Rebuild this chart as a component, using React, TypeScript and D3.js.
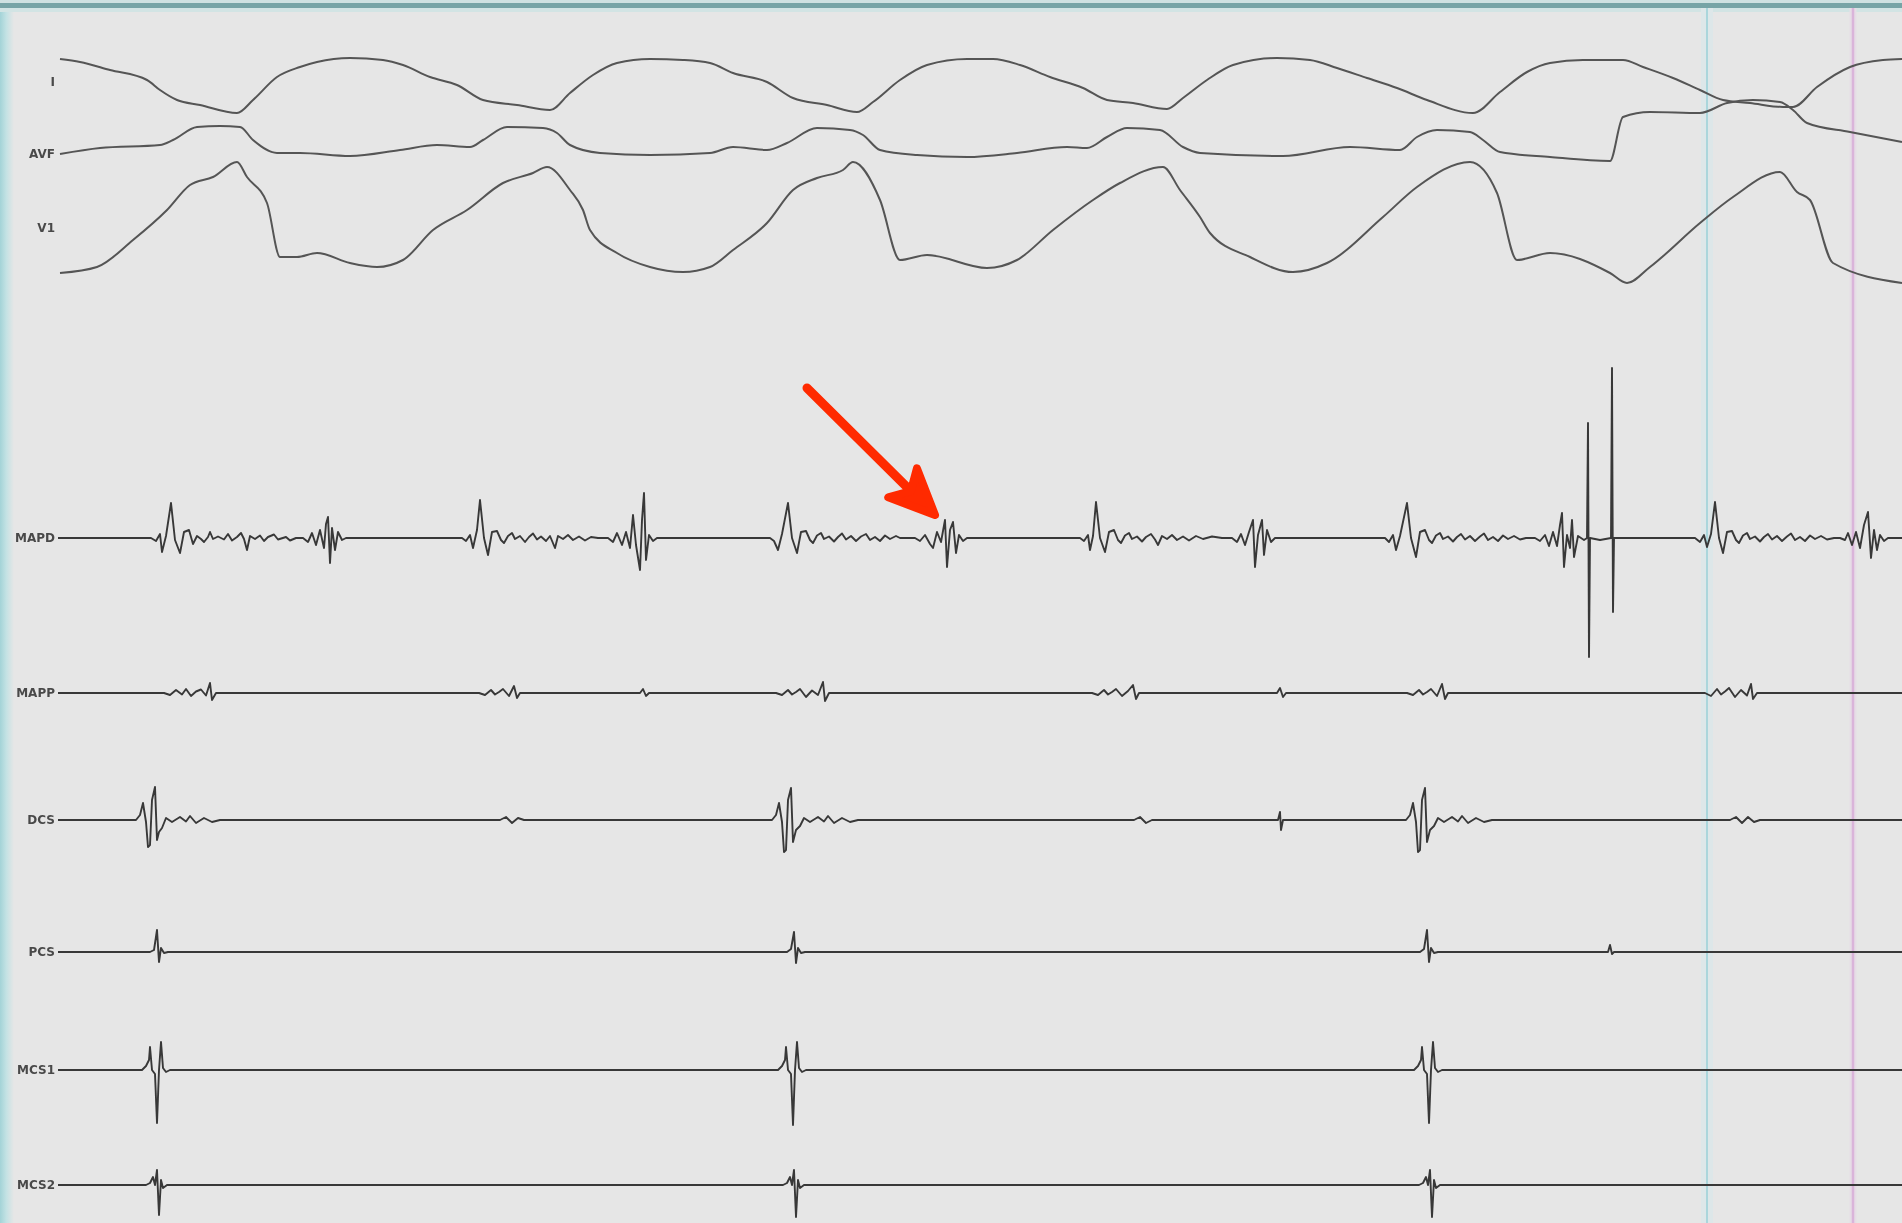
import React, { useRef, useEffect } from 'react'
import * as d3 from 'd3'

const WIDTH = 1902
const HEIGHT = 1223
const DURATION_MS = 3688

const CHANNELS = ['I', 'AVF', 'V1', 'MAPD', 'MAPP', 'DCS', 'PCS', 'MCS1', 'MCS2']

// surface leads: [time ms, mV]
const LEAD_I = [[4,0.46],[44,0.40],[104,0.24],[178,0.04],[204,-0.16],[238,-0.36],[284,-0.46],[358,-0.62],[390,-0.36],[438,0.10],[484,0.30],[518,0.40],[584,0.48],[650,0.44],[690,0.34],[744,0.10],[798,-0.06],[850,-0.36],[918,-0.46],[984,-0.56],[1024,-0.22],[1070,0.14],[1118,0.38],[1184,0.46],[1250,0.44],[1304,0.38],[1350,0.18],[1418,0.00],[1470,-0.32],[1538,-0.46],[1598,-0.60],[1630,-0.40],[1684,0.04],[1738,0.34],[1818,0.46],[1870,0.46],[1924,0.34],[1984,0.10],[2050,-0.12],[2098,-0.36],[2150,-0.42],[2218,-0.54],[2250,-0.32],[2298,0.04],[2350,0.34],[2438,0.48],[2504,0.44],[2558,0.28],[2618,0.08],[2678,-0.12],[2738,-0.36],[2830,-0.62],[2884,-0.20],[2938,0.20],[2984,0.38],[3050,0.44],[3130,0.44],[3170,0.30],[3230,0.08],[3284,-0.16],[3330,-0.36],[3384,-0.42],[3450,-0.50],[3470,-0.50],[3518,-0.10],[3584,0.30],[3650,0.44],[3688,0.46]]

const LEAD_AVF = [[4,0],[84,0.12],[204,0.18],[230,0.28],[278,0.54],[324,0.56],[364,0.54],[390,0.28],[438,0.02],[484,0.02],[584,-0.04],[684,0.08],[758,0.18],[824,0.14],[850,0.28],[898,0.54],[970,0.52],[998,0.42],[1024,0.18],[1084,0.02],[1184,-0.02],[1304,0.02],[1350,0.14],[1418,0.08],[1458,0.22],[1518,0.52],[1584,0.48],[1610,0.38],[1644,0.08],[1718,-0.02],[1818,-0.06],[1918,0.02],[2018,0.14],[2058,0.12],[2098,0.34],[2138,0.52],[2204,0.48],[2250,0.14],[2284,0.02],[2450,-0.04],[2584,0.14],[2684,0.08],[2718,0.34],[2758,0.48],[2824,0.44],[2850,0.28],[2884,0.04],[2984,-0.06],[3104,-0.14],[3130,0.74],[3184,0.84],[3284,0.82],[3338,1.02],[3390,1.08],[3444,1.04],[3470,0.88],[3498,0.62],[3584,0.44],[3688,0.24]]

const LEAD_V1 = [[4,-0.90],[78,-0.78],[150,-0.24],[218,0.36],[264,0.86],[310,1.02],[358,1.32],[378,1.02],[418,0.50],[444,-0.58],[478,-0.58],[518,-0.50],[584,-0.70],[638,-0.78],[690,-0.64],[750,-0.04],[818,0.36],[890,0.90],[950,1.10],[978,1.22],[1024,0.76],[1050,0.36],[1064,-0.04],[1118,-0.50],[1184,-0.78],[1250,-0.88],[1304,-0.78],[1350,-0.44],[1418,0.10],[1470,0.76],[1518,1.00],[1570,1.16],[1590,1.32],[1644,0.56],[1684,-0.64],[1738,-0.54],[1858,-0.80],[1918,-0.64],[1990,-0.04],[2070,0.56],[2124,0.90],[2210,1.22],[2244,0.76],[2284,0.22],[2304,-0.10],[2384,-0.58],[2470,-0.88],[2538,-0.70],[2650,0.22],[2718,0.82],[2824,1.32],[2878,0.70],[2918,-0.64],[2984,-0.50],[3104,-0.90],[3138,-1.10],[3184,-0.78],[3284,0.10],[3350,0.62],[3444,1.12],[3478,0.72],[3504,0.56],[3550,-0.70],[3688,-1.10]]

// intracardiac electrograms: deflections only, baseline is 0 between them
const MAPD = [
  [[186,0],[196,-0.06],[204,0.08],[208,-0.28],[216,0.04],[226,0.70],[234,-0.04],[244,-0.30],[252,0.12],[262,0.16],[270,-0.12],[278,0.04],[286,-0.02],[292,-0.08],[300,0.02],[304,0.12],[310,-0.02],[320,0.03],[332,-0.03],[340,0.08],[348,-0.05],[358,0.02],[366,0.10],[372,-0.02],[378,-0.24],[384,0.04],[394,-0.02],[404,0.05],[412,-0.06],[420,0.02],[432,0.07],[440,-0.03],[456,0.02],[464,-0.05],[476,0]],
  [[490,0],[500,-0.08],[508,0.10],[516,-0.14],[524,0.16],[532,-0.20],[536,0.28],[540,0.42],[544,-0.50],[548,0.20],[554,-0.24],[560,0.12],[568,-0.04],[576,0]],
  [[808,0],[816,-0.06],[824,0.06],[830,-0.20],[838,0.16],[844,0.76],[852,0],[860,-0.34],[868,0.12],[878,0.14],[886,-0.04],[892,-0.10],[900,0.04],[908,0.10],[914,-0.02],[924,0.04],[934,-0.08],[942,0.02],[950,0.09],[958,-0.03],[966,0.03],[976,-0.06],[984,0.04],[994,-0.20],[1000,0.04],[1010,-0.02],[1020,0.06],[1030,-0.04],[1042,0.03],[1054,-0.05],[1066,0.02],[1080,0]],
  [[1100,0],[1110,-0.08],[1118,0.10],[1128,-0.14],[1136,0.12],[1144,-0.20],[1150,0.46],[1156,-0.14],[1164,-0.64],[1168,0.36],[1172,0.90],[1176,-0.44],[1182,0.06],[1190,-0.06],[1198,0]],
  [[1424,0],[1432,-0.06],[1440,-0.24],[1448,0.08],[1460,0.70],[1468,0],[1478,-0.30],[1486,0.12],[1496,0.14],[1504,-0.04],[1510,-0.10],[1518,0.05],[1526,0.10],[1532,-0.02],[1542,0.03],[1552,-0.07],[1560,0.02],[1568,0.09],[1576,-0.03],[1586,0.04],[1596,-0.06],[1606,0.03],[1616,0.08],[1624,-0.04],[1634,0.02],[1644,-0.06],[1654,0.05],[1664,-0.02],[1676,0.04],[1684,0]],
  [[1714,0],[1724,-0.06],[1734,0.06],[1744,-0.12],[1750,-0.20],[1758,0.12],[1766,-0.08],[1774,0.36],[1778,-0.58],[1784,0.16],[1790,0.32],[1796,-0.30],[1802,0.06],[1810,-0.06],[1818,0]],
  [[2044,0],[2052,-0.06],[2060,0.06],[2064,-0.24],[2070,0.04],[2076,0.72],[2084,0],[2094,-0.28],[2102,0.12],[2112,0.16],[2120,-0.04],[2126,-0.10],[2134,0.05],[2142,0.10],[2148,-0.02],[2158,0.03],[2168,-0.07],[2176,0.02],[2186,0.08],[2194,-0.03],[2200,-0.14],[2208,0.04],[2218,-0.02],[2228,0.06],[2238,-0.04],[2250,0.03],[2262,-0.05],[2276,0.04],[2290,-0.02],[2308,0.03],[2328,0]],
  [[2348,0],[2358,-0.08],[2366,0.08],[2374,-0.14],[2382,0.12],[2390,0.36],[2394,-0.58],[2400,0.06],[2408,0.36],[2412,-0.34],[2418,0.16],[2426,-0.08],[2434,0]],
  [[2654,0],[2662,-0.08],[2670,0.06],[2676,-0.24],[2684,0.04],[2698,0.70],[2706,0],[2716,-0.38],[2724,0.12],[2734,0.16],[2742,-0.04],[2748,-0.10],[2756,0.05],[2764,0.10],[2770,-0.02],[2780,0.03],[2790,-0.07],[2798,0.02],[2806,0.08],[2814,-0.03],[2824,0.04],[2834,-0.06],[2844,0.03],[2852,0.09],[2860,-0.04],[2870,0.02],[2880,-0.06],[2890,0.05],[2900,-0.02],[2912,0.04],[2924,-0.03],[2936,0]],
  [[2954,0],[2964,-0.06],[2974,0.06],[2982,-0.16],[2990,0.12],[2998,-0.16],[3004,0.26],[3008,0.50],[3012,-0.58],[3018,0.06],[3024,-0.20],[3028,0.36],[3032,-0.38],[3040,0.04],[3052,-0.04],[3058,0],[3060,2.30],[3062,-2.38],[3064,0],[3084,-0.04],[3106,0],[3108,3.40],[3110,-1.48],[3112,0],[3134,0]],
  [[3274,0],[3284,-0.08],[3292,0.06],[3298,-0.18],[3306,0.08],[3314,0.72],[3322,0],[3330,-0.30],[3338,0.12],[3348,0.14],[3356,-0.04],[3362,-0.10],[3370,0.05],[3378,0.10],[3384,-0.02],[3394,0.03],[3404,-0.07],[3412,0.02],[3420,0.08],[3428,-0.03],[3438,0.04],[3448,-0.06],[3458,0.03],[3466,0.09],[3474,-0.04],[3484,0.02],[3494,-0.06],[3504,0.05],[3514,-0.02],[3526,0.04],[3538,-0.03],[3552,0]],
  [[3564,0],[3574,-0.04],[3580,0.10],[3588,-0.14],[3596,0.12],[3604,-0.20],[3612,0.26],[3620,0.52],[3626,-0.40],[3632,0.16],[3638,-0.24],[3644,0.06],[3652,-0.06],[3660,0]]
]

const MAPP = [
  [[212,0],[224,-0.04],[236,0.06],[248,-0.03],[256,0.08],[266,-0.06],[276,0.03],[286,0.07],[296,-0.05],[304,0.20],[308,-0.14],[316,0]],
  [[842,0],[854,-0.04],[866,0.06],[874,-0.03],[882,0.02],[890,0.08],[902,-0.06],[912,0.14],[918,-0.10],[924,0]],
  [[1164,0],[1170,0.08],[1176,-0.06],[1182,0]],
  [[1436,0],[1448,-0.04],[1460,0.06],[1468,-0.03],[1476,0.02],[1484,0.08],[1496,-0.08],[1508,0.05],[1520,-0.04],[1530,0.22],[1534,-0.16],[1542,0]],
  [[2068,0],[2080,-0.04],[2092,0.06],[2100,-0.03],[2108,0.02],[2116,0.08],[2128,-0.06],[2140,0.04],[2150,0.16],[2156,-0.12],[2162,0]],
  [[2438,0],[2444,0.10],[2450,-0.08],[2456,0]],
  [[2698,0],[2710,-0.04],[2722,0.06],[2730,-0.03],[2738,0.02],[2746,0.08],[2758,-0.06],[2768,0.18],[2774,-0.12],[2780,0]],
  [[3294,0],[3306,-0.06],[3318,0.08],[3326,-0.03],[3334,0.03],[3342,0.10],[3354,-0.08],[3366,0.06],[3378,-0.05],[3386,0.18],[3390,-0.12],[3398,0]]
]

const DCS = [
  [[156,0],[164,0.10],[170,0.34],[176,-0.04],[180,-0.54],[184,-0.50],[188,0.40],[194,0.66],[198,-0.40],[202,-0.24],[208,-0.16],[216,0.04],[228,-0.04],[244,0.06],[256,-0.03],[264,0.08],[276,-0.06],[292,0.04],[308,-0.04],[324,0]],
  [[884,0],[896,0.06],[908,-0.06],[920,0.04],[932,0]],
  [[1428,0],[1436,0.10],[1442,0.34],[1448,-0.04],[1452,-0.64],[1456,-0.60],[1460,0.40],[1466,0.64],[1470,-0.44],[1476,-0.20],[1484,-0.12],[1492,0.04],[1504,-0.04],[1520,0.06],[1532,-0.03],[1540,0.08],[1552,-0.06],[1568,0.04],[1584,-0.04],[1600,0]],
  [[2152,0],[2164,0.06],[2176,-0.06],[2188,0]],
  [[2440,0],[2444,0.16],[2446,-0.20],[2450,0]],
  [[2696,0],[2704,0.10],[2710,0.34],[2716,-0.04],[2720,-0.64],[2724,-0.60],[2728,0.40],[2734,0.64],[2738,-0.44],[2744,-0.20],[2752,-0.12],[2760,0.04],[2772,-0.04],[2788,0.06],[2800,-0.03],[2808,0.08],[2820,-0.06],[2836,0.04],[2852,-0.04],[2868,0]],
  [[3344,0],[3356,0.06],[3368,-0.06],[3380,0.06],[3392,-0.04],[3404,0]]
]

const PCS = [
  [[184,0],[192,0.04],[198,0.44],[202,-0.20],[206,0.08],[212,-0.02],[220,0]],
  [[1458,0],[1466,0.06],[1472,0.40],[1476,-0.22],[1480,0.08],[1486,-0.02],[1494,0]],
  [[2724,0],[2732,0.06],[2738,0.44],[2742,-0.20],[2746,0.08],[2752,-0.02],[2760,0]],
  [[3100,0],[3104,0.14],[3108,-0.04],[3112,0]]
]

const MCS1 = [
  [[168,0],[176,0.08],[182,0.20],[184,0.46],[188,0],[194,-0.08],[198,-1.06],[202,0],[206,0.56],[210,0.04],[216,-0.04],[224,0]],
  [[1440,0],[1448,0.08],[1454,0.20],[1456,0.46],[1460,0],[1466,-0.08],[1470,-1.10],[1474,0],[1478,0.56],[1482,0.04],[1488,-0.04],[1496,0]],
  [[2712,0],[2720,0.08],[2726,0.20],[2728,0.46],[2732,0],[2738,-0.08],[2742,-1.06],[2746,0],[2750,0.56],[2754,0.04],[2760,-0.04],[2768,0]]
]

const MCS2 = [
  [[176,0],[184,0.04],[190,0.16],[194,0],[198,0.30],[202,-0.60],[206,0.10],[210,-0.06],[218,0]],
  [[1450,0],[1458,0.04],[1464,0.16],[1468,0],[1472,0.30],[1476,-0.64],[1480,0.10],[1484,-0.06],[1492,0]],
  [[2722,0],[2730,0.04],[2736,0.16],[2740,0],[2744,0.30],[2748,-0.64],[2752,0.10],[2756,-0.06],[2764,0]]
]

// review cursors (ms)
const CURSOR_TIMES = [3298, 3590]

// annotation arrow on MAPD: [ms, mV]
const ARROW_TAIL = [1498, 3.0]
const ARROW_TIP = [1754, 0.46]

function withBaseline(complexes) {
  return [[0, 0], ...complexes.flat(), [DURATION_MS, 0]]
}

const TRACES = {
  I: LEAD_I,
  AVF: LEAD_AVF,
  V1: LEAD_V1,
  MAPD: withBaseline(MAPD),
  MAPP: withBaseline(MAPP),
  DCS: withBaseline(DCS),
  PCS: withBaseline(PCS),
  MCS1: withBaseline(MCS1),
  MCS2: withBaseline(MCS2)
}

export default function App() {
  const ref = useRef(null)

  useEffect(() => {
    const svg = d3.select(ref.current)
    svg.selectAll('*').remove()

    const x = d3.scaleLinear().domain([0, DURATION_MS]).range([58, WIDTH])
    const rowY = d3.scaleOrdinal()
      .domain(CHANNELS)
      .range([82, 154, 228, 538, 693, 820, 952, 1070, 1185])
    // 1 mV = 50 px for every channel
    const amp = d3.scaleLinear().domain([-1, 1]).range([50, -50])

    const defs = svg.append('defs')
    const grad = defs.append('linearGradient').attr('id', 'leftEdge')
    grad.append('stop').attr('offset', '0%').attr('stop-color', '#a3d3d7')
    grad.append('stop').attr('offset', '45%').attr('stop-color', '#c3e2e4')
    grad.append('stop').attr('offset', '100%').attr('stop-color', '#e6e6e6')
    defs.append('filter').attr('id', 'soft')
      .append('feGaussianBlur').attr('stdDeviation', 0.55)

    svg.append('rect').attr('width', WIDTH).attr('height', HEIGHT).attr('fill', '#e6e6e6')
    svg.append('rect').attr('x', 0).attr('y', 0).attr('width', 14).attr('height', HEIGHT).attr('fill', 'url(#leftEdge)')
    svg.append('rect').attr('x', 0).attr('y', 0).attr('width', WIDTH).attr('height', 3).attr('fill', '#cfe1e1')
    svg.append('rect').attr('x', 0).attr('y', 3).attr('width', WIDTH).attr('height', 5).attr('fill', '#77a4a6')
    svg.append('rect').attr('x', 0).attr('y', 8).attr('width', WIDTH).attr('height', 4).attr('fill', '#d2e4e4')

    // cursors
    const cursorStyle = [
      { band: '#dde7e9', line: '#aad6dc', bw: 12, lw: 2 },
      { band: '#e6dde6', line: '#dab4da', bw: 7, lw: 2.5 }
    ]
    CURSOR_TIMES.forEach((t, i) => {
      const s = cursorStyle[i]
      svg.append('rect')
        .attr('x', x(t) - s.bw / 2).attr('y', 8)
        .attr('width', s.bw).attr('height', HEIGHT - 8)
        .attr('fill', s.band)
      svg.append('line')
        .attr('x1', x(t)).attr('x2', x(t))
        .attr('y1', 8).attr('y2', HEIGHT)
        .attr('stroke', s.line).attr('stroke-width', s.lw)
    })

    const g = svg.append('g').attr('filter', 'url(#soft)')

    CHANNELS.forEach((name, i) => {
      const base = rowY(name)
      const surface = i < 3
      const line = d3.line()
        .x(d => x(d[0]))
        .y(d => base + amp(d[1]))
        .curve(surface ? d3.curveMonotoneX : d3.curveLinear)

      g.append('path')
        .datum(TRACES[name])
        .attr('d', line)
        .attr('fill', 'none')
        .attr('stroke', surface ? '#555' : '#383838')
        .attr('stroke-width', surface ? 2 : 1.9)
        .attr('stroke-linejoin', 'round')

      g.append('text')
        .attr('x', 55)
        .attr('y', base)
        .attr('dy', '0.36em')
        .attr('text-anchor', 'end')
        .attr('font-family', 'DejaVu Sans')
        .attr('font-weight', 'bold')
        .attr('font-size', 12)
        .attr('fill', '#4a4a4a')
        .text(name)
    })

    // red arrow
    const ax0 = x(ARROW_TAIL[0])
    const ay0 = rowY('MAPD') + amp(ARROW_TAIL[1])
    const ax1 = x(ARROW_TIP[0])
    const ay1 = rowY('MAPD') + amp(ARROW_TIP[1])
    const ang = Math.atan2(ay1 - ay0, ax1 - ax0)
    const headLen = 50
    const spread = 0.42
    const b1 = [ax1 - headLen * Math.cos(ang - spread), ay1 - headLen * Math.sin(ang - spread)]
    const b2 = [ax1 - headLen * Math.cos(ang + spread), ay1 - headLen * Math.sin(ang + spread)]
    const inner = [ax1 - 34 * Math.cos(ang), ay1 - 34 * Math.sin(ang)]
    const red = '#ff2a00'
    svg.append('line')
      .attr('x1', ax0).attr('y1', ay0)
      .attr('x2', inner[0]).attr('y2', inner[1])
      .attr('stroke', red).attr('stroke-width', 9).attr('stroke-linecap', 'round')
    svg.append('path')
      .attr('d', `M${ax1},${ay1}L${b1[0]},${b1[1]}L${inner[0]},${inner[1]}L${b2[0]},${b2[1]}Z`)
      .attr('fill', red).attr('stroke', red)
      .attr('stroke-width', 8).attr('stroke-linejoin', 'round')
  }, [])

  return (
    <div style={{ position: 'absolute', left: 0, top: 0 }}>
      <svg ref={ref} width={WIDTH} height={HEIGHT} style={{ display: 'block' }} />
    </div>
  )
}
